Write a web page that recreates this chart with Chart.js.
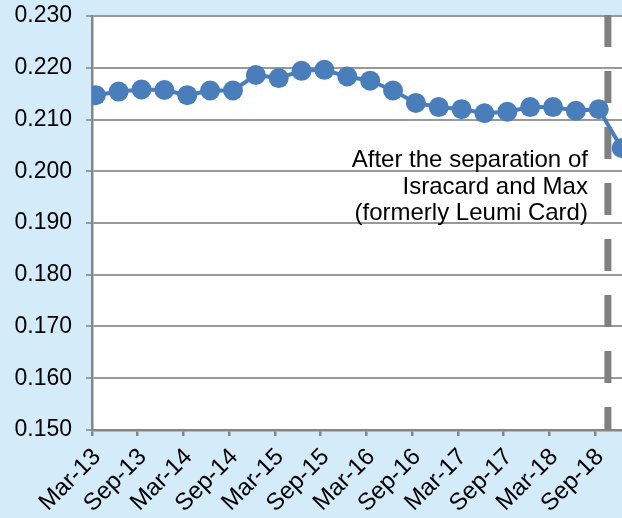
<!DOCTYPE html>
<html>
<head>
<meta charset="utf-8">
<script src="https://cdn.jsdelivr.net/npm/chart.js@4.4.1/dist/chart.umd.min.js"></script>
<style>
  html, body { margin: 0; padding: 0; background: #d4ecfa; }
  #wrap { width: 622px; height: 518px; position: relative; }
</style>
</head>
<body>
<div id="wrap"><canvas id="chart"></canvas></div>
<script>
// quarterly data points
const quarters = ['Mar-13', 'Jun-13', 'Sep-13', 'Dec-13', 'Mar-14', 'Jun-14', 'Sep-14', 'Dec-14',
                  'Mar-15', 'Jun-15', 'Sep-15', 'Dec-15', 'Mar-16', 'Jun-16', 'Sep-16', 'Dec-16',
                  'Mar-17', 'Jun-17', 'Sep-17', 'Dec-17', 'Mar-18', 'Jun-18', 'Sep-18', 'Dec-18'];
const values = [0.2147, 0.2154, 0.2158, 0.2157, 0.2147, 0.2156, 0.2156, 0.2186,
                0.2180, 0.2194, 0.2196, 0.2183, 0.2175, 0.2156, 0.2132, 0.2124,
                0.2120, 0.2112, 0.2115, 0.2124, 0.2124, 0.2117, 0.2120, 0.2045];
// axis labels every six months
const tickLabels = ['Mar-13', 'Sep-13', 'Mar-14', 'Sep-14', 'Mar-15', 'Sep-15',
                    'Mar-16', 'Sep-16', 'Mar-17', 'Sep-17', 'Mar-18', 'Sep-18'];
const yTicks = [0.150, 0.160, 0.170, 0.180, 0.190, 0.200, 0.210, 0.220, 0.230];
const noteLines = ['After the separation of', 'Isracard and Max', '(formerly Leumi Card)'];

const MONTHS = ['Jan','Feb','Mar','Apr','May','Jun','Jul','Aug','Sep','Oct','Nov','Dec'];
// months counted from Mar-13
function monthOf(label) {
    const [m, y] = label.split('-');
    return (2000 + Number(y)) * 12 + MONTHS.indexOf(m) - (2013 * 12 + 2);
}
const separationAt = 67.7;   // month position of the dashed marker
const xMax = 69.55;

const blue = '#4a7ebb';
const axisGray = '#868686';
const font = "'Liberation Sans', Arial, sans-serif";

const points = quarters.map((q, i) => ({ x: monthOf(q) + 0.5, y: values[i] }));
const tickPos = tickLabels.map(monthOf);

const background = {
    id: 'background',
    beforeDraw(chart) {
        const { ctx, chartArea: a } = chart;
        ctx.save();
        ctx.fillStyle = '#d4ecfa';
        ctx.fillRect(0, 0, chart.width, chart.height);
        ctx.fillStyle = '#ffffff';
        ctx.fillRect(a.left, a.top, a.right - a.left, a.bottom - a.top);
        ctx.restore();
    },
    beforeDatasetsDraw(chart) {
        const { ctx, chartArea: a, scales } = chart;
        const x = scales.x.getPixelForValue(separationAt);
        ctx.save();
        ctx.strokeStyle = '#808080';
        ctx.lineWidth = 7;
        ctx.setLineDash([32, 24]);
        ctx.beginPath();
        ctx.moveTo(x, a.top - 1);
        ctx.lineTo(x, a.bottom);
        ctx.stroke();
        ctx.setLineDash([]);
        ctx.fillStyle = '#000';
        ctx.font = '24px ' + font;
        ctx.textAlign = 'right';
        ctx.textBaseline = 'alphabetic';
        noteLines.forEach((t, i) => {
            ctx.fillText(t, x - 20, a.top + 151 + i * 26.5);
        });
        ctx.restore();
    }
};

new Chart(document.getElementById('chart'), {
    type: 'line',
    data: {
        datasets: [{
            data: points,
            borderColor: blue,
            backgroundColor: blue,
            borderWidth: 4,
            pointRadius: 10,
            pointBorderWidth: 0,
            pointBackgroundColor: blue,
            pointHoverRadius: 10,
            tension: 0
        }]
    },
    options: {
        responsive: true,
        maintainAspectRatio: false,
        animation: false,
        events: [],
        layout: {
            autoPadding: false,
            padding: { top: 16, right: 0, bottom: 0, left: 0 }
        },
        plugins: {
            legend: { display: false },
            tooltip: { enabled: false }
        },
        scales: {
            x: {
                type: 'linear',
                min: 0,
                max: xMax,
                afterBuildTicks: (scale) => {
                    scale.ticks = tickPos.map(v => ({ value: v }));
                },
                afterFit: (scale) => {
                    scale.height = 88;
                    scale.paddingLeft = 0;
                    scale.paddingRight = 0;
                },
                border: { color: axisGray, width: 2.5 },
                grid: {
                    drawOnChartArea: false,
                    color: axisGray,
                    lineWidth: 2.5,
                    tickLength: 6
                },
                ticks: {
                    color: '#000',
                    font: { family: font, size: 24 },
                    maxRotation: 45,
                    minRotation: 45,
                    padding: 7,
                    labelOffset: 5,
                    callback: (v) => tickLabels[tickPos.indexOf(v)]
                }
            },
            y: {
                min: 0.15,
                max: 0.23,
                afterBuildTicks: (scale) => {
                    scale.ticks = yTicks.map(v => ({ value: v }));
                },
                afterFit: (scale) => {
                    scale.width = 92;
                    scale.paddingTop = 0;
                    scale.paddingBottom = 0;
                },
                border: { color: axisGray, width: 2.5 },
                grid: {
                    color: '#999999',
                    lineWidth: 2,
                    tickLength: 6
                },
                ticks: {
                    color: '#000',
                    font: { family: font, size: 23 },
                    padding: 14,
                    callback: (v) => v.toFixed(3)
                }
            }
        }
    },
    plugins: [background]
});
</script>
</body>
</html>
